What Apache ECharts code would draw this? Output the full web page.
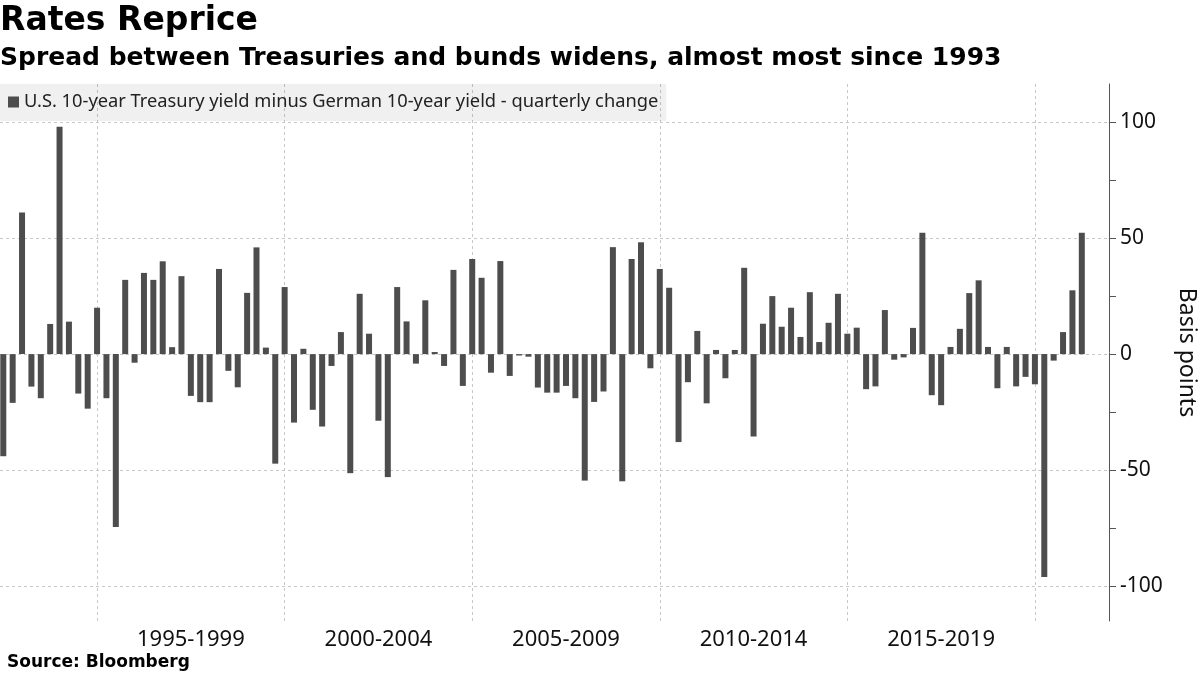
<!DOCTYPE html>
<html>
<head>
<meta charset="utf-8">
<script src="https://cdn.jsdelivr.net/npm/echarts@6/dist/echarts.min.js"></script>
<style>
  html, body { margin: 0; padding: 0; background: #fff; }
  #chart { width: 1200px; height: 675px; }
</style>
</head>
<body>
<div id="chart"></div>
<script>
// quarterly change of US 10y minus German 10y spread, bp (1992 Q2 .. 2021 Q1)
const startYear = 1992;
const startQuarter = 2;
const spreadChange = [
  -44, -21, 61, -14, -19, 13, 98, 14, -17, -23.5,
  20, -19, -74.5, 32, -3.7, 35, 32, 40, 3, 33.6,
  -18, -20.7, -20.7, 36.7, -7.2, -14.3, 26.4, 46, 2.8, -47.2,
  28.9, -29.5, 2.3, -24, -31.2, -5.1, 9.5, -51.3, 26, 8.8,
  -28.7, -53, 28.9, 14.1, -4.1, 23.2, 0.9, -5.1, 36.3, -13.7,
  41, 32.9, -8, 40.1, -9.4, -0.6, -1.1, -14.4, -16.6, -16.6,
  -13.7, -19, -54.5, -20.6, -16.1, 46.1, -54.8, 41, 48.2, -6.1,
  36.7, 28.6, -37.9, -12.1, 10, -21.2, 1.8, -10.4, 1.8, 37.2,
  -35.5, 13.1, 25, 11.8, 20, 7.4, 26.7, 5.2, 13.5, 26,
  8.8, 11.4, -15.1, -13.9, 19, -2.4, -1.4, 11.3, 52.3, -17.7,
  -22, 3.1, 10.9, 26.3, 31.8, 3.1, -14.7, 3.1, -13.9, -9.8,
  -13, -96, -2.8, 9.5, 27.5, 52.3
];

const quarters = [];
for (let i = 0; i < spreadChange.length; i++) {
  const q = startQuarter - 1 + i;
  quarters.push((startYear + Math.floor(q / 4)) + ' Q' + (q % 4 + 1));
}

// x ticks, as quarter positions: gridlines sit on each Q4 1994, 1999, ...
const gridQuarters = [10, 30, 50, 70, 90, 110];
const periodAt = [20, 40, 60, 80, 100];
const periodLabels = ['1995-1999', '2000-2004', '2005-2009', '2010-2014', '2015-2019'];

const yLabels = [-100, -50, 0, 50, 100];
const yTicks = [-100, -75, -50, -25, 0, 25, 50, 75, 100];

const seriesName = 'U.S. 10-year Treasury yield minus German 10-year yield - quarterly change';

const chart = echarts.init(document.getElementById('chart'));

const gridLine = { type: [3, 3], color: '#c8c8c8', width: 1 };

chart.setOption({
  animation: false,
  textStyle: { fontFamily: 'Noto Sans' },
  title: [
    {
      text: 'Rates Reprice', left: 0, top: 5, padding: 0,
      textStyle: { fontFamily: 'DejaVu Sans', fontWeight: 'bold', fontSize: 33, color: '#000' }
    },
    {
      text: 'Spread between Treasuries and bunds widens, almost most since 1993', left: 0, top: 46, padding: 0,
      textStyle: { fontFamily: 'DejaVu Sans', fontWeight: 'bold', fontSize: 25, color: '#000' }
    },
    {
      text: 'Source: Bloomberg', left: 7, top: 654, padding: 0,
      textStyle: { fontFamily: 'DejaVu Sans', fontWeight: 'bold', fontSize: 17, color: '#000' }
    }
  ],
  legend: {
    left: 0, top: 84,
    padding: [9, 8, 10, 8],
    icon: 'rect', itemWidth: 11, itemHeight: 11, itemGap: 4,
    backgroundColor: 'rgba(0,0,0,0.06)',
    textStyle: { fontSize: 18.3, color: '#222' },
    data: [seriesName]
  },
  grid: { left: 0, right: 91, top: 84, bottom: 54, outerBoundsMode: 'none' },
  xAxis: {
    type: 'value',
    min: -0.35, max: 117.9,
    axisLine: { show: false, onZero: false },
    axisTick: { show: false, customValues: gridQuarters },
    splitLine: { show: true, lineStyle: gridLine },
    axisLabel: {
      customValues: periodAt,
      formatter: v => periodLabels[periodAt.indexOf(v)],
      fontSize: 22, color: '#111', margin: 8
    }
  },
  yAxis: [
    {
      type: 'value', position: 'right',
      min: -115, max: 116.4,
      axisLine: { show: true, onZero: false, lineStyle: { color: '#555', width: 1 } },
      axisTick: { show: true, customValues: yTicks, length: 7, lineStyle: { color: '#555' } },
      axisLabel: { customValues: yLabels, fontSize: 21, color: '#111', margin: 11 },
      splitLine: { show: false },
      name: 'Basis points', nameLocation: 'middle', nameRotate: -90, nameGap: 66,
      nameTextStyle: { fontSize: 23, color: '#111' }
    },
    {
      // only carries the horizontal gridlines at the labelled values
      type: 'value', position: 'right',
      min: -115, max: 116.4,
      axisLine: { show: false, onZero: false },
      axisTick: { show: false, customValues: yLabels },
      axisLabel: { show: false },
      splitLine: { show: true, lineStyle: gridLine }
    }
  ],
  series: [
    {
      name: seriesName,
      type: 'bar',
      barWidth: 6,
      itemStyle: { color: '#4d4d4d' },
      data: spreadChange.map((v, i) => [i, v])
    }
  ]
});
</script>
</body>
</html>
